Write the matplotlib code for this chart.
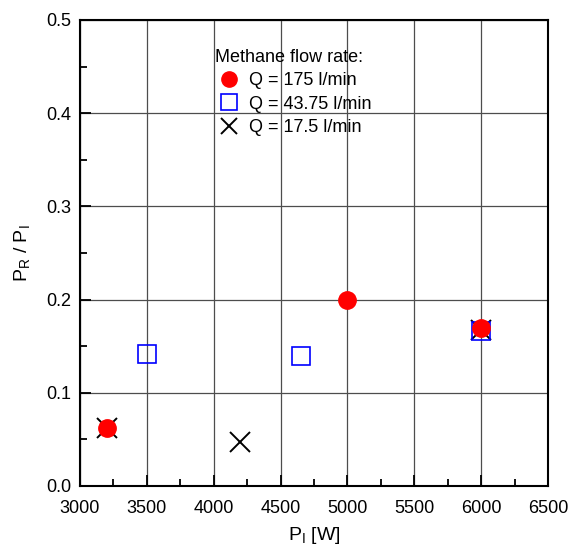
import matplotlib.pyplot as plt
from matplotlib.ticker import MultipleLocator

plt.rcParams['font.family'] = ['Liberation Sans', 'DejaVu Sans']

# data
x_175 = [3200, 5000, 6000]
y_175 = [0.062, 0.200, 0.170]
x_4375 = [3500, 4650, 6000]
y_4375 = [0.142, 0.139, 0.166]
x_175b = [3200, 4200, 6000]
y_175b = [0.062, 0.047, 0.167]
yticks = [0, 0.1, 0.2, 0.3, 0.4, 0.5]
ylabels = ['0.0', '0.1', '0.2', '0.3', '0.4', '0.5']

fig = plt.figure(figsize=(5.7, 5.47), dpi=100)
ax = fig.add_axes([80 / 570, 61 / 547, 468 / 570, 466 / 547])

h3, = ax.plot(x_175b, y_175b, 'x', color='black', markersize=15, mew=1.4,
              linestyle='none', label='Q = 17.5 l/min', zorder=3)
h2, = ax.plot(x_4375, y_4375, 's', mfc='none', mec='blue', markersize=13, mew=1.2,
              linestyle='none', label='Q = 43.75 l/min', zorder=4)
h1, = ax.plot(x_175, y_175, 'o', color='red', markersize=12.5,
              linestyle='none', label='Q = 175 l/min', zorder=5)

ax.set_xlim(3000, 6500)
ax.set_ylim(0, 0.5)
ax.xaxis.set_major_locator(MultipleLocator(500))
ax.xaxis.set_minor_locator(MultipleLocator(250))
ax.set_yticks(yticks)
ax.set_yticklabels(ylabels)
ax.yaxis.set_minor_locator(MultipleLocator(0.05))

ax.grid(True, which='major', color='0.3', linewidth=0.9, zorder=0)
ax.set_axisbelow(True)
ax.tick_params(which='both', direction='in', labelsize=13, width=1.3)
ax.tick_params(which='major', length=8)
ax.tick_params(which='minor', length=5)
ax.tick_params(axis='x', pad=10)
ax.tick_params(axis='y', pad=6)
for s in ax.spines.values():
    s.set_linewidth(1.5)

ax.set_xlabel('P$_\\mathregular{I}$ [W]', fontsize=14, labelpad=6)
ax.set_ylabel('P$_\\mathregular{R}$ / P$_\\mathregular{I}$', fontsize=14, labelpad=10)

leg = ax.legend(handles=[h1, h2, h3], title='Methane flow rate:', frameon=False,
                loc='upper left', bbox_to_anchor=(0.272, 0.953), fontsize=13,
                title_fontsize=13, handletextpad=0.3, labelspacing=0.35,
                borderaxespad=0, handlelength=1.6)
leg._legend_box.align = 'left'
for hd in leg.legend_handles:
    hd.set_markersize(11)

fig.savefig('out.png', dpi=100)
